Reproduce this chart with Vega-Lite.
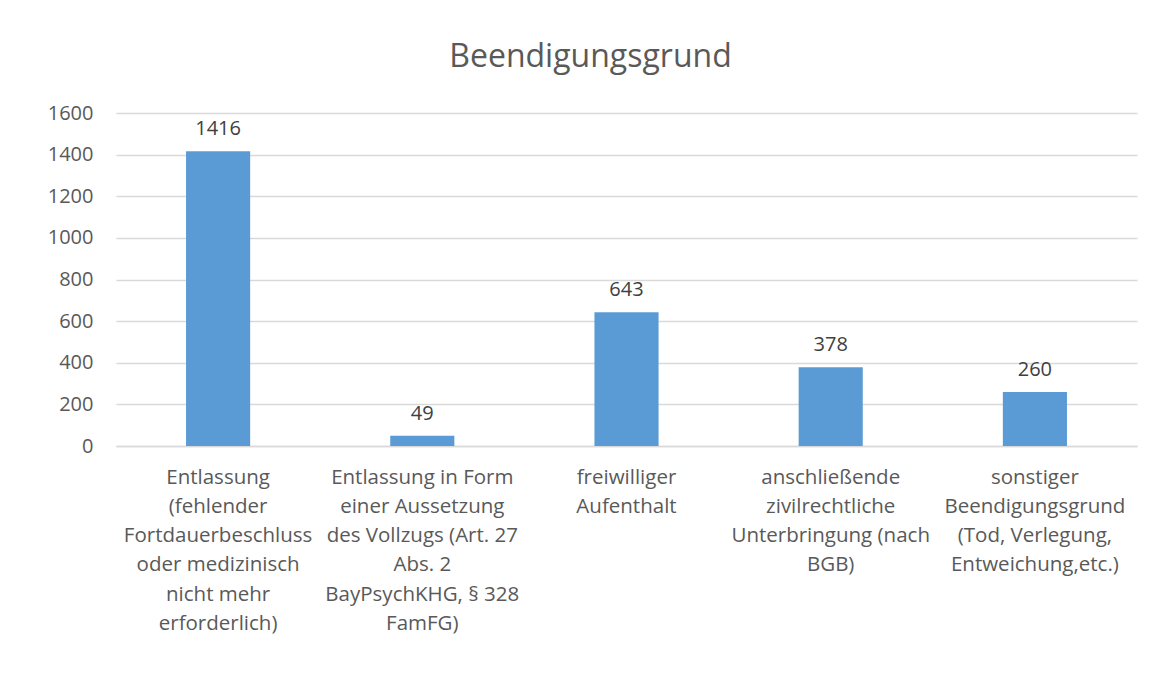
{
  "$schema": "https://vega.github.io/schema/vega-lite/v6.json",
  "autosize": {"type": "none"},
  "padding": {"left": 116, "top": 113, "right": 23, "bottom": 240},
  "width": 1021,
  "height": 333,
  "background": "white",
  "title": {
    "text": "Beendigungsgrund",
    "font": "Open Sans",
    "fontSize": 32,
    "fontWeight": "normal",
    "color": "#595959",
    "anchor": "middle",
    "baseline": "alphabetic",
    "offset": 4,
    "dx": -36
  },
  "data": {
    "values": [
      {"grund": "Entlassung|(fehlender|Fortdauerbeschluss|oder medizinisch|nicht mehr|erforderlich)", "anzahl": 1416},
      {"grund": "Entlassung in Form|einer Aussetzung|des Vollzugs (Art. 27|Abs. 2|BayPsychKHG, § 328|FamFG)", "anzahl": 49},
      {"grund": "freiwilliger|Aufenthalt", "anzahl": 643},
      {"grund": "anschließende|zivilrechtliche|Unterbringung (nach|BGB)", "anzahl": 378},
      {"grund": "sonstiger|Beendigungsgrund|(Tod, Verlegung,|Entweichung,etc.)", "anzahl": 260}
    ]
  },
  "encoding": {
    "x": {
      "field": "grund",
      "type": "nominal",
      "sort": null,
      "scale": {"paddingInner": 0.686, "paddingOuter": 0.343},
      "axis": {
        "title": null,
        "labelAngle": 0,
        "labelExpr": "split(datum.label, '|')",
        "labelFont": "Open Sans",
        "labelFontSize": 20.5,
        "labelColor": "#595959",
        "labelLineHeight": 29.3,
        "labelBaseline": "top",
        "labelPadding": 21,
        "labelLimit": 300,
        "ticks": false,
        "domain": true,
        "domainColor": "#d9d9d9",
        "domainWidth": 1.5
      }
    },
    "y": {
      "field": "anzahl",
      "type": "quantitative",
      "scale": {"domain": [0, 1600], "nice": false},
      "axis": {
        "title": null,
        "values": [0, 200, 400, 600, 800, 1000, 1200, 1400, 1600],
        "format": "d",
        "labelFont": "Open Sans",
        "labelFontSize": 20,
        "labelColor": "#595959",
        "labelPadding": 23,
        "ticks": false,
        "domain": false,
        "grid": true,
        "gridColor": "#d9d9d9",
        "gridWidth": 1.5
      }
    }
  },
  "layer": [
    {"mark": {"type": "bar", "color": "#5B9BD5"}},
    {
      "mark": {
        "type": "text",
        "font": "Open Sans",
        "fontSize": 20,
        "color": "#404040",
        "baseline": "alphabetic",
        "dy": -16
      },
      "encoding": {"text": {"field": "anzahl", "type": "quantitative", "format": "d"}}
    }
  ],
  "config": {"view": {"stroke": null}}
}
